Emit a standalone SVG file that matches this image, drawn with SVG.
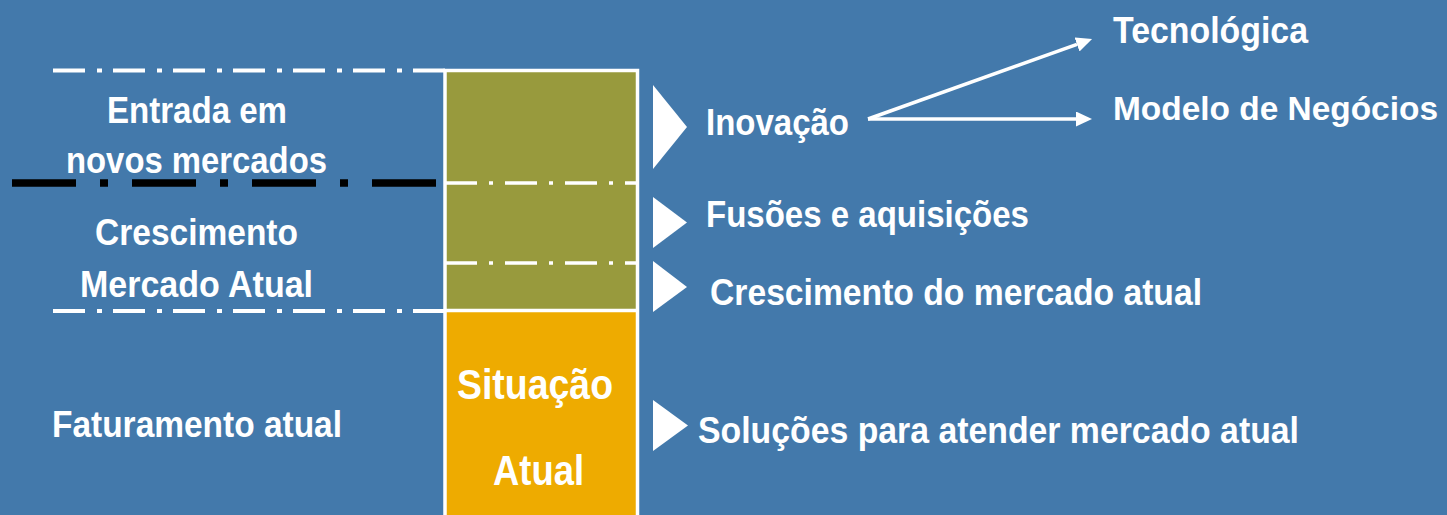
<svg xmlns="http://www.w3.org/2000/svg" width="1447" height="515" viewBox="0 0 1447 515">
<style>
  text { font-family: "Liberation Sans", Arial, sans-serif; font-weight: bold; fill: #ffffff; font-size: 37px; }
  .big { font-size: 43px; }
  .wdash { stroke: #ffffff; stroke-width: 4; fill: none; stroke-dasharray: 32 12 5 11; }
  .idash { stroke: #ffffff; stroke-width: 3.5; fill: none; stroke-dasharray: 32 12 4 12; }
  .bdash { stroke: #000000; stroke-width: 7.5; fill: none; stroke-dasharray: 64 24 8 24; }
  .tri { fill: #ffffff; }
  .conn { stroke: #ffffff; stroke-width: 3.5; fill: none; }
</style>
<defs>
  <marker id="ah" markerUnits="userSpaceOnUse" markerWidth="16" markerHeight="15" refX="0" refY="7.5" orient="auto" viewBox="0 0 16 15">
    <path d="M0,0 L16,7.5 L0,15 z" fill="#ffffff"/>
  </marker>
</defs>
<rect x="0" y="0" width="1447" height="515" fill="#4379AB"/>

<g id="bands">
  <line class="wdash" x1="53" y1="70.5" x2="445" y2="70.5"/>
  <line class="bdash" x1="12" y1="183" x2="436" y2="183"/>
  <line class="wdash" x1="53" y1="311" x2="445" y2="311"/>
</g>

<g id="box">
  <rect x="445" y="70.5" width="192.5" height="240" fill="#989A3D"/>
  <rect x="445" y="310.5" width="192.5" height="210" fill="#EEAB00"/>
  <line class="idash" x1="445" y1="183" x2="637" y2="183"/>
  <line class="idash" x1="445" y1="263" x2="637" y2="263"/>
  <line x1="445" y1="310.5" x2="637.5" y2="310.5" stroke="#ffffff" stroke-width="3.5"/>
  <rect x="445" y="70.5" width="192.5" height="460" fill="none" stroke="#ffffff" stroke-width="3.5"/>
  <text class="big" x="457" y="399" textLength="156" lengthAdjust="spacingAndGlyphs">Situação</text>
  <text class="big" x="493" y="485" textLength="91" lengthAdjust="spacingAndGlyphs">Atual</text>
</g>

<g id="left-labels">
  <text x="107" y="123" textLength="180" lengthAdjust="spacingAndGlyphs">Entrada em</text>
  <text x="66" y="173" textLength="261" lengthAdjust="spacingAndGlyphs">novos mercados</text>
  <text x="95" y="245" textLength="203" lengthAdjust="spacingAndGlyphs">Crescimento</text>
  <text x="80" y="297" textLength="233" lengthAdjust="spacingAndGlyphs">Mercado Atual</text>
  <text x="52" y="437" textLength="290" lengthAdjust="spacingAndGlyphs">Faturamento atual</text>
</g>

<g id="inovacao">
  <polygon class="tri" points="653,85 687,127 653,169"/>
  <text x="706" y="135" textLength="143" lengthAdjust="spacingAndGlyphs">Inovação</text>
</g>
<g id="fusoes">
  <polygon class="tri" points="653,197 687,222.5 653,248"/>
  <text x="706" y="227" textLength="323" lengthAdjust="spacingAndGlyphs">Fusões e aquisições</text>
</g>
<g id="crescimento">
  <polygon class="tri" points="653,261 687,287 653,312"/>
  <text x="710" y="305" textLength="492" lengthAdjust="spacingAndGlyphs">Crescimento do mercado atual</text>
</g>
<g id="solucoes">
  <polygon class="tri" points="653,400 688,425.5 653,451"/>
  <text x="698" y="443" textLength="601" lengthAdjust="spacingAndGlyphs">Soluções para atender mercado atual</text>
</g>
<g id="tecnologica">
  <text x="1113" y="43" textLength="195" lengthAdjust="spacingAndGlyphs">Tecnológica</text>
</g>
<g id="modelo">
  <text x="1113" y="120" style="font-size:33.5px" textLength="325" lengthAdjust="spacingAndGlyphs">Modelo de Negócios</text>
</g>

<g id="connectors">
  <line class="conn" x1="868" y1="119" x2="1077" y2="44.4" marker-end="url(#ah)"/>
  <line class="conn" x1="868" y1="119" x2="1076" y2="119" marker-end="url(#ah)"/>
</g>
</svg>
